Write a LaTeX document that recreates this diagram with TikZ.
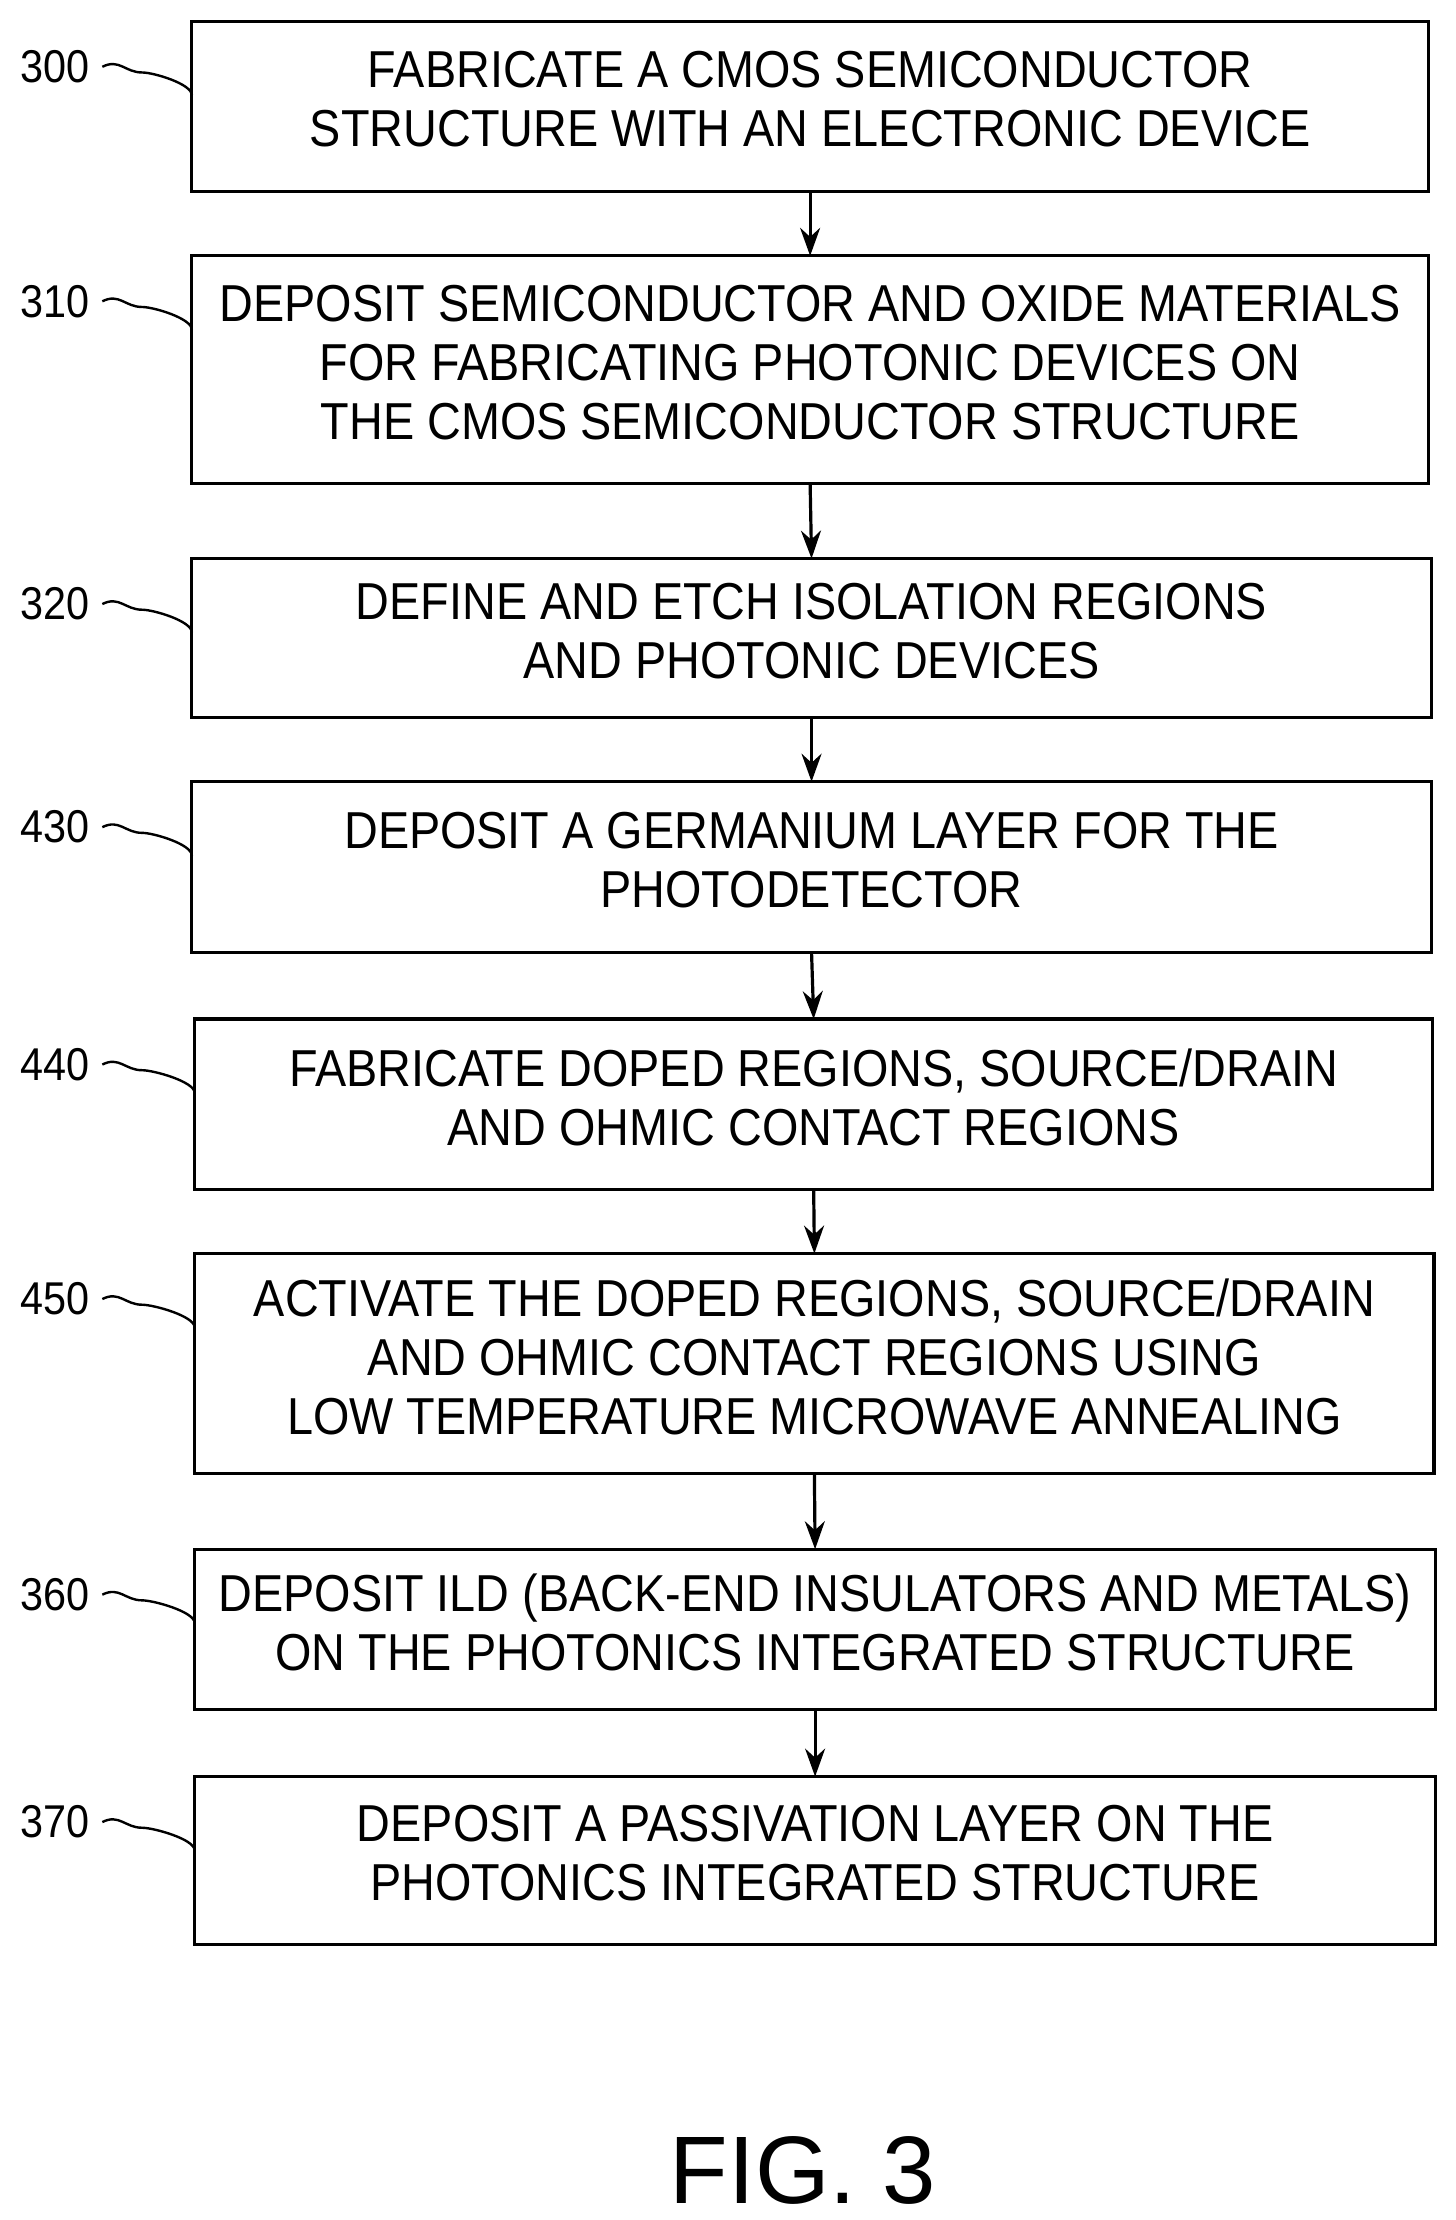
\documentclass[tikz,border=0pt]{standalone}
\usepackage{fontspec}
\setmainfont{Liberation Sans}[FakeStretch=0.9]
\usetikzlibrary{arrows.meta}
\begin{document}
\begin{tikzpicture}[x=0.025cm,y=-0.025cm,
 box/.style={draw,line width=1.6pt,inner sep=0},
 txt/.style={align=center,font=\fontsize{26}{29.5}\selectfont},
 lbl/.style={font=\fontsize{23}{26}\selectfont,anchor=east},
 arr/.style={line width=1.6pt,-{Stealth[length=14pt,width=10pt]}}]
\useasboundingbox (0,0) rectangle (1024,1562);
\def\B#1#2#3#4#5#6#7{%
 \draw[box] (#2,#4) rectangle (#3,#5);
 \coordinate (#1t) at ({(#2+#3)/2},#4);
 \coordinate (#1b) at ({(#2+#3)/2},#5);
 \node[txt] (#1) at ({(#2+#3)/2},{(#4+#5)/2-5}) {#7};
 \node[lbl] (#1l) at (68,{#4+32}) {#6};
 \draw[line width=1.2pt] (#1l.east) ++(4,0) .. controls +(12,-6) and +(-12,0) .. ++(28,4) .. controls +(8,0) and +(0,-8) .. (#2,{#4+52});}
\B{a}{135}{1005}{15}{135}{300}{FABRICATE A CMOS SEMICONDUCTOR\\STRUCTURE WITH AN ELECTRONIC DEVICE}
\B{b}{135}{1005}{180}{340}{310}{DEPOSIT SEMICONDUCTOR AND OXIDE MATERIALS\\FOR FABRICATING PHOTONIC DEVICES ON\\THE CMOS SEMICONDUCTOR STRUCTURE}
\B{c}{135}{1007}{393}{505}{320}{DEFINE AND ETCH ISOLATION REGIONS\\AND PHOTONIC DEVICES}
\B{d}{135}{1007}{550}{670}{430}{DEPOSIT A GERMANIUM LAYER FOR THE\\PHOTODETECTOR}
\B{e}{137}{1008}{717}{837}{440}{FABRICATE DOPED REGIONS, SOURCE/DRAIN\\AND OHMIC CONTACT REGIONS}
\B{f}{137}{1009}{882}{1037}{450}{ACTIVATE THE DOPED REGIONS, SOURCE/DRAIN\\AND OHMIC CONTACT REGIONS USING\\LOW TEMPERATURE MICROWAVE ANNEALING}
\B{g}{137}{1010}{1090}{1203}{360}{DEPOSIT ILD (BACK-END INSULATORS AND METALS)\\ON THE PHOTONICS INTEGRATED STRUCTURE}
\B{h}{137}{1010}{1250}{1368}{370}{DEPOSIT A PASSIVATION LAYER ON THE\\PHOTONICS INTEGRATED STRUCTURE}
\draw[arr] (ab) -- (bt);
\draw[arr] (bb) -- (ct);
\draw[arr] (cb) -- (dt);
\draw[arr] (db) -- (et);
\draw[arr] (eb) -- (ft);
\draw[arr] (fb) -- (gt);
\draw[arr] (gb) -- (ht);
\node[font=\fontsize{48}{52}\selectfont\addfontfeature{FakeStretch=1}] (fig) at (565,1527) {FIG. 3};
\end{tikzpicture}
\end{document}
